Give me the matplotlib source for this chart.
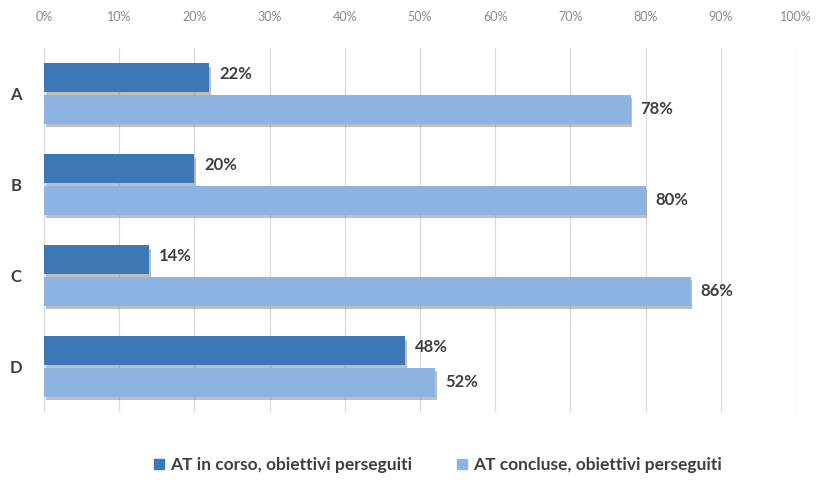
import matplotlib.pyplot as plt
import matplotlib.patheffects as pe
from matplotlib.patches import Patch
import numpy as np

categories = ['A', 'B', 'C', 'D']
in_corso = [22, 20, 14, 48]
concluse = [78, 80, 86, 52]
series_names = ['AT in corso, obiettivi perseguiti', 'AT concluse, obiettivi perseguiti']
xticks = list(range(0, 101, 10))

dark = '#3b78b5'
light = '#8db3e2'
txt = '#3f3f3f'

plt.rcParams['font.family'] = ['Lato', 'DejaVu Sans']

fig = plt.figure(figsize=(8.19, 5.00), dpi=100)
ax = fig.add_axes([44 / 819, 1 - 412 / 500, 752 / 819, 364 / 500])

y = np.arange(len(categories))
h = 0.31
off = 0.175
shadow = [pe.SimplePatchShadow(offset=(1.2, -2.2), shadow_rgbFace='#8a8a8a', alpha=0.55), pe.Normal()]

b1 = ax.barh(y - off, in_corso, height=h, color=dark, zorder=3)
b2 = ax.barh(y + off, concluse, height=h, color=light, zorder=3)
for bars in (b1, b2):
    for p in bars:
        p.set_path_effects(shadow)

for yy, v in zip(y - off, in_corso):
    ax.text(v + 1.3, yy - 0.04, f'{v}%', va='center', ha='left', fontsize=12,
            fontweight='bold', color=txt)
for yy, v in zip(y + off, concluse):
    ax.text(v + 1.3, yy, f'{v}%', va='center', ha='left', fontsize=12,
            fontweight='bold', color=txt)

ax.set_xlim(0, 100)
ax.set_ylim(3.5, -0.5)
ax.set_xticks(xticks)
ax.set_xticklabels([f'{t}%' for t in xticks], fontsize=9, color='#8a8a8a')
ax.xaxis.tick_top()
ax.tick_params(axis='x', length=0, pad=18)
ax.set_yticks(y)
ax.set_yticklabels(categories, fontsize=12, color=txt, fontweight='bold')
ax.tick_params(axis='y', length=0, pad=16)
ax.grid(axis='x', color='#d9d9d9', linewidth=0.9, zorder=0)
for s in ax.spines.values():
    s.set_visible(False)

handles = [Patch(color=dark), Patch(color=light)]
fig.legend(handles=handles, labels=series_names, loc='center', bbox_to_anchor=(0.535, 1 - 465 / 500),
           ncol=2, frameon=False, prop={'size': 12.5, 'weight': 'bold'}, handlelength=0.55,
           handleheight=0.55, handletextpad=0.35, columnspacing=2.6, labelcolor=txt)

fig.savefig('out.png', dpi=100, facecolor='white')
